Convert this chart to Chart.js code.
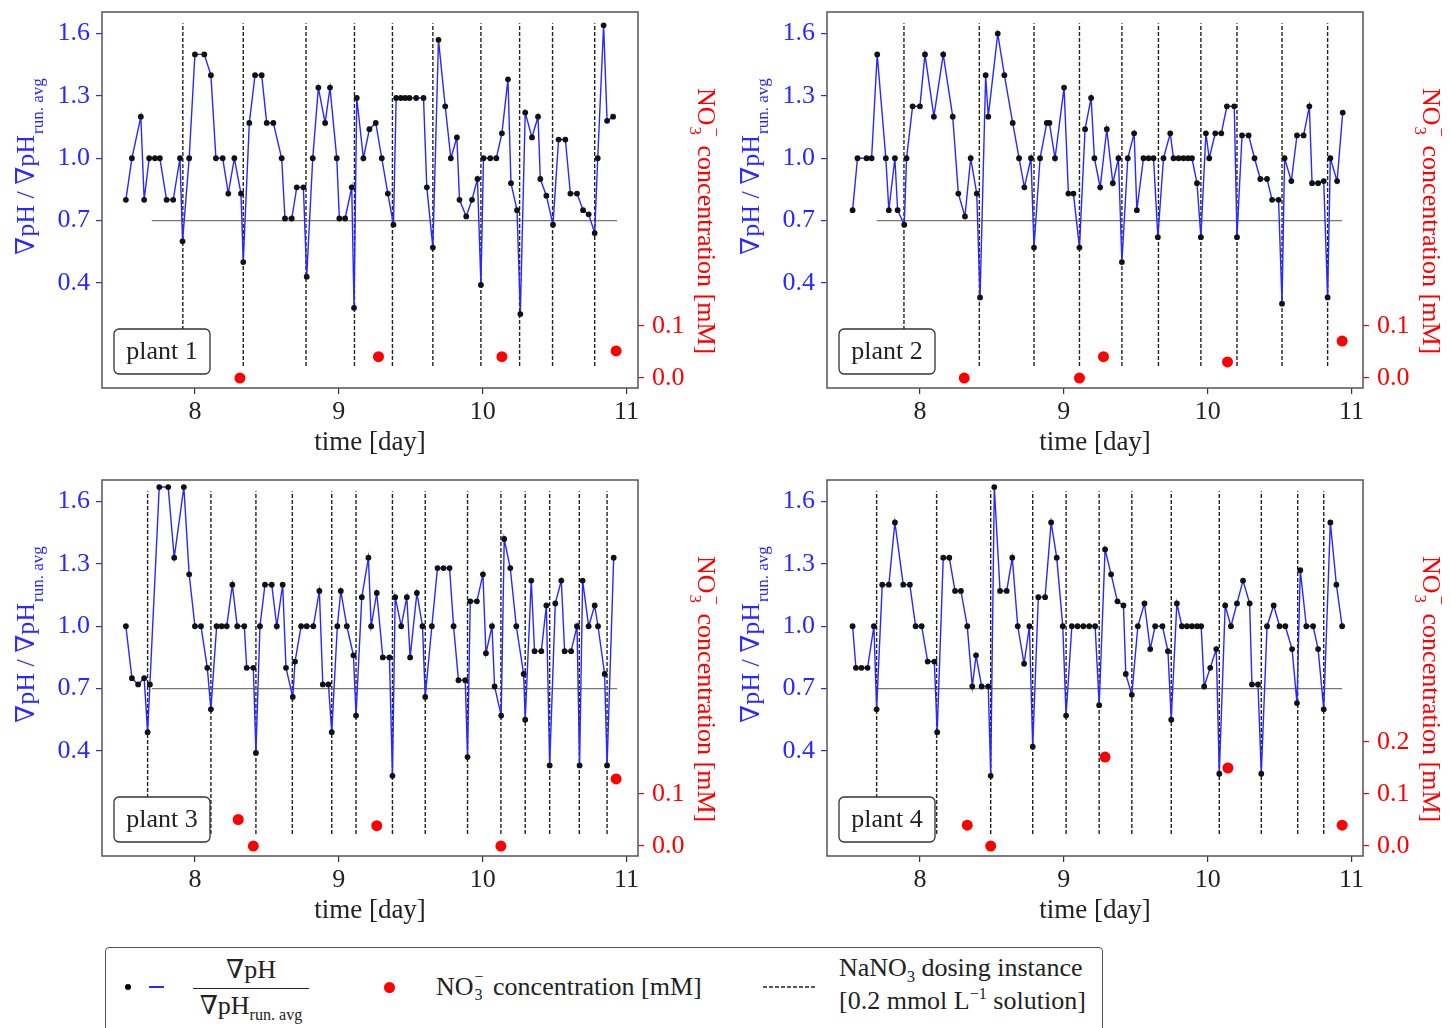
<!DOCTYPE html>
<html>
<head>
<meta charset="utf-8">
<script src="https://cdn.jsdelivr.net/npm/chart.js@4.4.0/dist/chart.umd.min.js"></script>
<style>
  body { margin:0; background:#fff; width:1450px; height:1028px; overflow:hidden; position:relative;
         font-family:"Liberation Serif","DejaVu Serif",serif; color:#222; }
  canvas { position:absolute; }
  #legend { position:absolute; left:105px; top:947px; width:996px; height:100px;
            border:1.5px solid #555; border-radius:4px; background:#fff; font-size:26px; }
  #legend .a { position:absolute; white-space:nowrap; line-height:26px; }
  #legend sub { font-size:0.62em; vertical-align:-0.4em; line-height:0; }
  #legend sup { font-size:0.62em; vertical-align:0.6em; line-height:0; }
  #legend .ss { position:relative; display:inline-block; vertical-align:top; width:13px; height:26px; }
  #legend .ss span { position:absolute; left:1px; font-size:16px; line-height:16px; }
</style>
</head>
<body>
<canvas id="c1" width="725" height="468" style="left:0;top:0"></canvas>
<canvas id="c2" width="725" height="468" style="left:725px;top:0"></canvas>
<canvas id="c3" width="725" height="468" style="left:0;top:468px"></canvas>
<canvas id="c4" width="725" height="468" style="left:725px;top:468px"></canvas>

<div id="legend">
  <div class="a" style="left:19px;top:36px;width:6px;height:6px;border-radius:50%;background:#000"></div>
  <div class="a" style="left:43px;top:38px;width:15px;height:1.6px;background:#2828ff"></div>
  <div class="a" style="left:87px;top:9px;width:116px;text-align:center">∇pH</div>
  <div class="a" style="left:87px;top:40px;width:116px;height:1.3px;background:#222"></div>
  <div class="a" style="left:87px;top:45px;width:116px;text-align:center">∇pH<sub>run. avg</sub></div>
  <div class="a" style="left:278px;top:34px;width:11px;height:11px;border-radius:50%;background:#f00"></div>
  <div class="a" style="left:330px;top:26px">NO<span class="ss"><span style="top:-5px">−</span><span style="top:13px">3</span></span> concentration [mM]</div>
  <svg class="a" style="left:657px;top:33px" width="54" height="12"><line x1="0" y1="6" x2="54" y2="6" stroke="#222" stroke-width="1.4" stroke-dasharray="4,2"/></svg>
  <div class="a" style="left:733px;top:7px">NaNO<sub>3</sub> dosing instance</div>
  <div class="a" style="left:733px;top:40px">[0.2 mmol L<sup>−1</sup> solution]</div>
</div>

<script>
// ==========================
// data
// ==========================
const timeTicks = [8, 9, 10, 11];
const ratioTicks = [0.4, 0.7, 1.0, 1.3, 1.6];
const nitrateTicks = [0, 0.1];
const nitrateTicksPlant4 = [0, 0.1, 0.2];
const refLevel = 0.7;
const refSpan = [7.70, 10.935];
const doseSpan = [0.0, 1.65];

const plant1Time = [7.520,7.562,7.624,7.647,7.682,7.722,7.756,7.803,7.849,7.896,
  7.914,7.960,8.000,8.065,8.111,8.146,8.193,8.232,8.274,8.320,
  8.336,8.378,8.418,8.464,8.499,8.545,8.603,8.626,8.673,8.708,
  8.754,8.777,8.819,8.858,8.905,8.939,8.986,9.004,9.044,9.090,
  9.106,9.125,9.171,9.213,9.257,9.299,9.341,9.380,9.399,9.431,
  9.461,9.491,9.538,9.589,9.612,9.654,9.693,9.740,9.779,9.821,
  9.839,9.886,9.926,9.964,9.988,10.006,10.053,10.095,10.134,10.176,
  10.197,10.239,10.262,10.296,10.343,10.385,10.401,10.443,10.489,10.528,
  10.575,10.610,10.656,10.698,10.737,10.779,10.800,10.841,10.865,10.907];
const plant1Ratio = [0.80,1.00,1.20,0.80,1.00,1.00,1.00,0.80,0.80,1.00,
  0.60,1.00,1.50,1.50,1.40,1.00,1.00,0.83,1.00,0.83,
  0.50,1.17,1.40,1.40,1.17,1.17,1.00,0.71,0.71,0.86,
  0.86,0.43,1.00,1.34,1.17,1.34,1.00,0.71,0.71,0.86,
  0.28,1.29,1.00,1.14,1.17,1.00,0.83,0.68,1.29,1.29,
  1.29,1.29,1.29,1.29,0.86,0.57,1.57,1.25,1.00,1.10,
  0.80,0.72,0.80,0.90,0.39,1.00,1.00,1.00,1.12,1.38,
  0.88,0.75,0.25,1.22,1.10,1.20,0.90,0.82,0.68,1.09,
  1.09,0.83,0.83,0.75,0.73,0.64,1.00,1.64,1.18,1.20];
const plant1Dosing = [7.916,8.336,8.772,9.109,9.373,9.654,9.988,10.257,10.486,10.779];
const plant1NitrateTime = [8.313,9.276,10.134,10.928];
const plant1Nitrate = [0.0,0.041,0.041,0.052];

const plant2Time = [7.532,7.566,7.629,7.664,7.703,7.763,7.784,7.826,7.845,7.891,
  7.907,7.949,8.000,8.035,8.097,8.162,8.228,8.267,8.313,8.353,
  8.395,8.418,8.457,8.475,8.541,8.587,8.645,8.689,8.726,8.772,
  8.793,8.835,8.882,8.900,8.939,9.002,9.032,9.067,9.109,9.148,
  9.190,
  9.213,9.253,9.299,9.341,9.380,9.404,9.445,9.489,9.508,9.554,
  9.589,9.624,9.654,9.693,9.740,9.763,9.798,9.832,9.863,9.891,
  9.926,9.953,9.988,10.011,10.053,10.095,10.134,10.185,10.204,10.239,
  10.285,10.326,10.366,10.413,10.448,10.493,10.517,10.535,10.582,10.621,
  10.667,10.707,10.726,10.768,10.807,10.834,10.853,10.900,10.939];
const plant2Ratio = [0.75,1.00,1.00,1.00,1.50,1.00,0.75,1.00,0.75,0.68,
  1.00,1.25,1.25,1.50,1.20,1.50,1.20,0.83,0.72,1.00,
  0.83,0.33,1.40,1.20,1.60,1.40,1.17,1.00,0.86,1.00,
  0.57,1.00,1.17,1.17,1.00,1.34,0.83,0.83,0.57,1.14,
  1.29,
  1.00,0.86,1.14,0.88,1.00,0.50,1.00,1.12,0.75,1.00,
  1.00,1.00,0.62,1.00,1.12,1.00,1.00,1.00,1.00,1.00,
  0.88,0.62,1.12,1.00,1.12,1.12,1.25,1.25,0.62,1.11,
  1.11,1.00,0.90,0.90,0.80,0.80,0.30,1.00,0.89,1.11,
  1.11,1.25,0.88,0.88,0.89,0.33,1.00,0.89,1.22];
const plant2Dosing = [7.889,8.413,8.793,9.109,9.404,9.658,9.953,10.204,10.517,10.834];
const plant2NitrateTime = [8.308,9.109,9.276,10.138,10.935];
const plant2Nitrate = [0.0,0.0,0.041,0.031,0.071];

const plant3Time = [7.520,7.562,7.605,7.647,7.671,7.687,7.752,7.814,7.856,7.923,
  7.960,8.000,8.042,8.086,8.111,8.151,8.186,8.221,8.260,8.294,
  8.343,8.360,8.406,8.424,8.452,8.487,8.534,8.569,8.610,8.633,
  8.680,8.696,8.738,8.777,8.823,8.865,8.889,8.928,8.951,8.990,
  9.014,9.056,9.102,9.120,9.160,
  9.206,9.225,9.264,9.306,9.352,9.373,9.392,9.434,9.473,9.496,
  9.543,9.582,9.601,9.647,9.686,9.728,9.770,9.798,9.832,9.879,
  9.895,9.914,9.960,10.002,10.023,10.065,10.083,10.129,10.150,10.192,
  10.234,10.285,10.296,10.338,10.361,10.408,10.443,10.466,10.505,10.547,
  10.570,10.615,10.656,10.674,10.695,10.737,10.779,10.802,10.848,10.865,
  10.911];
const plant3Ratio = [1.00,0.75,0.72,0.75,0.49,0.72,1.67,1.67,1.33,1.67,
  1.25,1.00,1.00,0.80,0.60,1.00,1.00,1.00,1.20,1.00,
  1.00,0.80,0.80,0.39,1.00,1.20,1.20,1.00,1.20,0.80,
  0.66,0.83,1.00,1.00,1.00,1.17,0.72,0.72,0.49,1.00,
  1.17,1.00,0.86,0.57,1.14,
  1.33,1.00,1.16,0.85,0.85,0.28,1.14,1.00,1.14,0.85,
  1.16,1.00,0.66,1.00,1.28,1.28,1.28,1.00,0.74,0.74,
  0.37,1.12,1.12,1.25,0.87,1.00,0.71,0.57,1.42,1.28,
  1.00,0.77,0.55,1.22,0.88,0.88,1.10,0.33,1.11,1.22,
  0.88,0.88,1.00,0.33,1.22,1.00,1.10,1.00,0.77,0.33,
  1.33];
const plant3Dosing = [7.671,8.111,8.424,8.677,8.951,9.120,9.373,9.601,9.895,10.127,10.296,10.466,10.672,10.865];
const plant3NitrateTime = [8.301,8.406,9.264,10.127,10.928];
const plant3Nitrate = [0.051,0.0,0.039,0.0,0.129];

const plant4Time = [7.532,7.555,7.594,7.636,7.680,7.699,7.738,7.784,7.826,7.884,
  7.930,7.970,8.012,8.054,8.100,8.120,8.162,8.204,8.244,8.285,
  8.329,8.364,8.390,8.429,8.475,8.492,8.517,8.557,8.603,8.642,
  8.680,8.724,8.761,8.784,8.823,8.870,8.912,8.951,8.993,9.016,
  9.056,9.096,9.136,9.177,9.218,
  9.246,9.287,9.329,9.373,9.415,9.431,9.473,9.515,9.561,9.601,
  9.635,9.686,9.724,9.747,9.786,9.821,9.856,9.891,9.926,9.955,
  9.976,10.018,10.060,10.081,10.122,10.162,10.204,10.246,10.292,10.308,
  10.350,10.373,10.413,10.459,10.500,10.540,10.587,10.621,10.644,10.686,
  10.733,10.768,10.807,10.853,10.895,10.935];
const plant4Ratio = [1.00,0.80,0.80,0.80,1.00,0.60,1.20,1.20,1.50,1.20,
  1.20,1.00,1.00,0.83,0.83,0.49,1.33,1.33,1.17,1.17,
  1.00,0.71,0.86,0.71,0.71,0.28,1.67,1.17,1.17,1.33,
  1.00,0.82,1.00,0.42,1.14,1.14,1.50,1.33,1.00,0.57,
  1.00,1.00,1.00,1.00,1.00,
  0.62,1.37,1.25,1.12,1.10,0.77,0.67,1.00,1.11,0.89,
  1.00,1.00,0.88,0.55,1.11,1.00,1.00,1.00,1.00,1.00,
  0.71,0.80,0.89,0.29,1.10,1.00,1.11,1.22,1.11,0.72,
  0.72,0.29,1.00,1.10,1.00,1.00,0.89,0.63,1.27,1.00,
  1.00,0.89,0.60,1.50,1.20,1.00];
const plant4Dosing = [7.699,8.116,8.492,8.784,9.016,9.246,9.473,9.747,10.081,10.373,10.626,10.807];
const plant4NitrateTime = [8.329,8.492,9.287,10.141,10.935];
const plant4Nitrate = [0.040,0.0,0.171,0.150,0.040];

// ==========================
// styles
// ==========================
const FONT = '"Liberation Serif", "DejaVu Serif", serif';
const BLUE = '#2828ff';

// label box, frame and axis titles
const panelDecor = {
  id: 'panelDecor',
  afterDatasetsDraw(chart, args, opts) {
    const { ctx, chartArea: a } = chart;
    const bw = 96, bh = 45;
    const bx = a.left + 12, by = a.bottom - 14 - bh;
    ctx.save();
    ctx.beginPath();
    ctx.roundRect(bx, by, bw, bh, 5);
    ctx.fillStyle = '#fff';
    ctx.fill();
    ctx.lineWidth = 1.3;
    ctx.strokeStyle = '#333';
    ctx.stroke();
    ctx.fillStyle = '#222';
    ctx.font = '26px ' + FONT;
    ctx.textAlign = 'center';
    ctx.textBaseline = 'middle';
    ctx.fillText(opts.name, bx + bw / 2, by + bh / 2 + 1);
    ctx.restore();
  },
  afterDraw(chart) {
    const { ctx, chartArea: a } = chart;
    ctx.save();
    ctx.strokeStyle = '#555';
    ctx.lineWidth = 1.5;
    ctx.strokeRect(a.left, a.top, a.width, a.height);

    // x title
    ctx.fillStyle = '#222';
    ctx.font = '27px ' + FONT;
    ctx.textAlign = 'center';
    ctx.textBaseline = 'alphabetic';
    ctx.fillText('time [day]', (a.left + a.right) / 2, a.bottom + 62);

    // left title
    ctx.save();
    ctx.translate(a.left - 68, a.top + 243);
    ctx.rotate(-Math.PI / 2);
    ctx.fillStyle = BLUE;
    ctx.textAlign = 'left';
    ctx.font = '26px ' + FONT;
    const main = '∇pH / ∇pH';
    ctx.fillText(main, 0, 0);
    const w = ctx.measureText(main).width;
    ctx.font = '17px ' + FONT;
    ctx.fillText('run. avg', w + 1, 9);
    ctx.restore();

    // right title
    ctx.save();
    ctx.translate(a.right + 60, a.top + 76);
    ctx.rotate(Math.PI / 2);
    ctx.fillStyle = '#f00';
    ctx.textAlign = 'left';
    ctx.font = '26px ' + FONT;
    ctx.fillText('NO', 0, 0);
    const w2 = ctx.measureText('NO').width;
    ctx.font = '17px ' + FONT;
    ctx.fillText('3', w2 + 1, 8);
    ctx.fillText('−', w2 + 2, -13);
    ctx.font = '26px ' + FONT;
    ctx.fillText('concentration [mM]', w2 + 20, 0);
    ctx.restore();

    ctx.restore();
  }
};

function tickFont() { return { family: FONT, size: 26 }; }

function makePanel(id, name, time, ratio, dosing, no3Time, no3, no3Ticks) {
  const ratioPts = time.map((t, i) => ({ x: t, y: ratio[i] }));
  const dosePts = [];
  dosing.forEach(d => {
    dosePts.push({ x: d, y: doseSpan[0] }, { x: d, y: doseSpan[1] }, { x: d, y: null });
  });
  const refPts = [{ x: refSpan[0], y: refLevel }, { x: refSpan[1], y: refLevel }];
  const no3Pts = no3Time.map((t, i) => ({ x: t, y: no3[i] }));

  new Chart(document.getElementById(id), {
    type: 'scatter',
    data: {
      datasets: [
        { data: no3Pts, yAxisID: 'y2', pointRadius: 5.5, pointBackgroundColor: '#f00',
          pointBorderWidth: 0, showLine: false, order: 0 },
        { data: ratioPts, yAxisID: 'y', showLine: true, borderColor: BLUE, borderWidth: 1.4,
          pointRadius: 2.9, pointBackgroundColor: '#111', pointBorderWidth: 0, order: 1 },
        { data: refPts, yAxisID: 'y', showLine: true, borderColor: '#777', borderWidth: 1.3,
          pointRadius: 0, order: 2 },
        { data: dosePts, yAxisID: 'y', showLine: true, spanGaps: false, borderColor: '#222',
          borderWidth: 1.4, borderDash: [4, 2], pointRadius: 0, order: 3 }
      ]
    },
    options: {
      responsive: false,
      animation: false,
      events: [],
      layout: { padding: { top: 12, left: 0, right: 0, bottom: 0 } },
      plugins: { legend: { display: false }, tooltip: { enabled: false }, panelDecor: { name } },
      scales: {
        x: {
          type: 'linear', position: 'bottom', min: 7.354, max: 11.08,
          afterBuildTicks: s => { s.ticks = timeTicks.map(v => ({ value: v })); },
          afterFit: s => { s.height = 80; s.paddingLeft = 0; s.paddingRight = 0; },
          border: { display: false },
          grid: { drawOnChartArea: false, tickLength: 6, color: '#333', lineWidth: 1.2 },
          ticks: { color: '#222', font: tickFont(), padding: 3, maxRotation: 0, autoSkip: false,
                   callback: v => String(v) }
        },
        y: {
          type: 'linear', position: 'left', min: -0.106, max: 1.704,
          afterBuildTicks: s => { s.ticks = ratioTicks.map(v => ({ value: v })); },
          afterFit: s => { s.width = 102; s.paddingTop = 0; s.paddingBottom = 0; },
          border: { display: false },
          grid: { drawOnChartArea: false, tickLength: 6, color: BLUE, lineWidth: 1.2 },
          ticks: { color: BLUE, font: tickFont(), padding: 6, callback: v => v.toFixed(1) }
        },
        y2: {
          type: 'linear', position: 'right', min: -0.0192, max: 0.7038,
          afterBuildTicks: s => { s.ticks = no3Ticks.map(v => ({ value: v })); },
          afterFit: s => { s.width = 87; s.paddingTop = 0; s.paddingBottom = 0; },
          border: { display: false },
          grid: { drawOnChartArea: false, tickLength: 6, color: '#f00', lineWidth: 1.2 },
          ticks: { color: '#f00', font: tickFont(), padding: 8, callback: v => v.toFixed(1) }
        }
      }
    },
    plugins: [panelDecor]
  });
}

makePanel('c1', 'plant 1', plant1Time, plant1Ratio, plant1Dosing, plant1NitrateTime, plant1Nitrate, nitrateTicks);
makePanel('c2', 'plant 2', plant2Time, plant2Ratio, plant2Dosing, plant2NitrateTime, plant2Nitrate, nitrateTicks);
makePanel('c3', 'plant 3', plant3Time, plant3Ratio, plant3Dosing, plant3NitrateTime, plant3Nitrate, nitrateTicks);
makePanel('c4', 'plant 4', plant4Time, plant4Ratio, plant4Dosing, plant4NitrateTime, plant4Nitrate, nitrateTicksPlant4);
</script>
</body>
</html>
